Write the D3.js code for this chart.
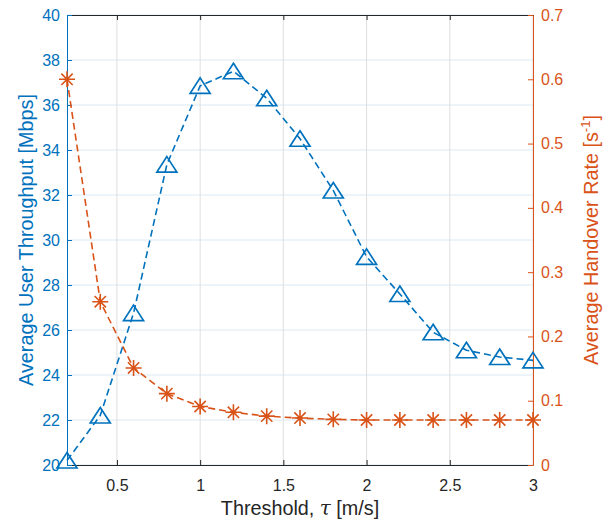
<!DOCTYPE html>
<html>
<head>
<meta charset="utf-8">
<script src="https://cdn.jsdelivr.net/npm/d3@7/dist/d3.min.js"></script>
<style>
  html, body { margin: 0; padding: 0; background: #fff; }
  svg { display: block; font-family: "Liberation Sans", Arial, Helvetica, sans-serif; }
</style>
</head>
<body>
<svg id="chart" width="613" height="523"></svg>
<script>
// Threshold sweep and the two measured quantities
const thresholds = [0.2, 0.4, 0.6, 0.8, 1.0, 1.2, 1.4, 1.6, 1.8, 2.0, 2.2, 2.4, 2.6, 2.8, 3.0];
const throughput = [20.2, 22.2, 26.75, 33.35, 36.85, 37.5, 36.3, 34.5, 32.2, 29.25, 27.6, 25.9, 25.1, 24.8, 24.65];
const handoverRate = [0.600, 0.254, 0.151, 0.111, 0.091, 0.082, 0.076, 0.073, 0.071, 0.070, 0.070, 0.070, 0.070, 0.070, 0.070];

const xTicks = [0.5, 1, 1.5, 2, 2.5, 3];
const leftTicks = [20, 22, 24, 26, 28, 30, 32, 34, 36, 38, 40];
const rightTicks = [0, 0.1, 0.2, 0.3, 0.4, 0.5, 0.6, 0.7];

const BLUE = "#0072BD", ORANGE = "#D95319", DARK = "#262626";
const plot = { left: 67, right: 533, top: 15, bottom: 465 };

const svg = d3.select("#chart");
const x = d3.scaleLinear().domain([0.2, 3]).range([plot.left, plot.right]);
const yL = d3.scaleLinear().domain([20, 40]).range([plot.bottom, plot.top]);
const yR = d3.scaleLinear().domain([0, 0.7]).range([plot.bottom, plot.top]);

// grid
const grid = svg.append("g");
grid.selectAll("line.h").data(leftTicks).join("line")
  .attr("x1", plot.left).attr("x2", plot.right)
  .attr("y1", d => yL(d)).attr("y2", d => yL(d))
  .attr("stroke", "#dbe9f4").attr("stroke-width", 1);
grid.selectAll("line.v").data(xTicks).join("line")
  .attr("x1", d => x(d)).attr("x2", d => x(d))
  .attr("y1", plot.top).attr("y2", plot.bottom)
  .attr("stroke", "#dfdfdf").attr("stroke-width", 1);

// axes
const tickLen = 5;
const fontTick = 16;
const fontLabel = 19.8;

const xAxisB = d3.axisBottom(x).tickValues(xTicks).tickSizeInner(-tickLen).tickSizeOuter(0).tickPadding(14.5)
  .tickFormat(d3.format("~g"));
const gx = svg.append("g").attr("transform", `translate(0,${plot.bottom})`).call(xAxisB);
gx.select(".domain").attr("stroke", DARK);
gx.selectAll(".tick line").attr("stroke", DARK);
gx.selectAll(".tick text").attr("fill", DARK).attr("font-size", fontTick).attr("font-family", null);

const xAxisT = d3.axisTop(x).tickValues(xTicks).tickSizeInner(-tickLen).tickSizeOuter(0).tickFormat("");
const gxt = svg.append("g").attr("transform", `translate(0,${plot.top})`).call(xAxisT);
gxt.select(".domain").attr("stroke", DARK);
gxt.selectAll(".tick line").attr("stroke", DARK);

const yAxisL = d3.axisLeft(yL).tickValues(leftTicks).tickSizeInner(-tickLen).tickSizeOuter(0).tickPadding(7);
const gyl = svg.append("g").attr("transform", `translate(${plot.left},0)`).call(yAxisL);
gyl.select(".domain").attr("stroke", BLUE);
gyl.selectAll(".tick line").attr("stroke", BLUE);
gyl.selectAll(".tick text").attr("fill", BLUE).attr("font-size", fontTick).attr("font-family", null);

const yAxisR = d3.axisRight(yR).tickValues(rightTicks).tickSizeInner(-tickLen).tickSizeOuter(0).tickPadding(8)
  .tickFormat(d3.format("~g"));
const gyr = svg.append("g").attr("transform", `translate(${plot.right},0)`).call(yAxisR);
gyr.select(".domain").attr("stroke", ORANGE);
gyr.selectAll(".tick line").attr("stroke", ORANGE);
gyr.selectAll(".tick text").attr("fill", ORANGE).attr("font-size", fontTick).attr("font-family", null);

// axis labels
svg.append("text")
  .attr("transform", `translate(33,${(plot.top + plot.bottom) / 2}) rotate(-90)`)
  .attr("text-anchor", "middle")
  .attr("fill", BLUE).attr("font-size", fontLabel)
  .text("Average User Throughput [Mbps]");

const rl = svg.append("text")
  .attr("transform", `translate(598,${(plot.top + plot.bottom) / 2}) rotate(-90)`)
  .attr("text-anchor", "middle")
  .attr("fill", ORANGE).attr("font-size", fontLabel);
rl.append("tspan").text("Average Handover Rate [s");
rl.append("tspan").attr("font-size", 13).attr("dy", -8).text("-1");
rl.append("tspan").attr("dy", 8).text("]");

const xl = svg.append("text")
  .attr("x", (plot.left + plot.right) / 2).attr("y", 515)
  .attr("text-anchor", "middle").attr("fill", DARK).attr("font-size", fontLabel);
xl.append("tspan").text("Threshold, ");
xl.append("tspan").attr("font-style", "italic").attr("font-family", "'DejaVu Serif', serif").text("τ");
xl.append("tspan").text(" [m/s]");

// series
const blueData = thresholds.map((t, i) => [t, throughput[i]]);
const orangeData = thresholds.map((t, i) => [t, handoverRate[i]]);

svg.append("path").datum(blueData)
  .attr("d", d3.line().x(d => x(d[0])).y(d => yL(d[1])))
  .attr("fill", "none").attr("stroke", BLUE).attr("stroke-width", 1.6)
  .attr("stroke-dasharray", "7,4");

svg.append("g").selectAll("path").data(blueData).join("path")
  .attr("transform", d => `translate(${x(d[0])},${yL(d[1])})`)
  .attr("d", "M0,-8L10,7.5L-10,7.5Z")
  .attr("fill", "none").attr("stroke", BLUE).attr("stroke-width", 1.7)
  .attr("stroke-linejoin", "miter");

svg.append("path").datum(orangeData)
  .attr("d", d3.line().x(d => x(d[0])).y(d => yR(d[1])))
  .attr("fill", "none").attr("stroke", ORANGE).attr("stroke-width", 1.6)
  .attr("stroke-dasharray", "7,4");

const r = 8, rd = r * Math.SQRT1_2;
const starPath = `M${-r},0L${r},0M0,${-r}L0,${r}M${-rd},${-rd}L${rd},${rd}M${-rd},${rd}L${rd},${-rd}`;
svg.append("g").selectAll("path").data(orangeData).join("path")
  .attr("transform", d => `translate(${x(d[0])},${yR(d[1])})`)
  .attr("d", starPath)
  .attr("fill", "none").attr("stroke", ORANGE).attr("stroke-width", 1.6);
</script>
</body>
</html>
